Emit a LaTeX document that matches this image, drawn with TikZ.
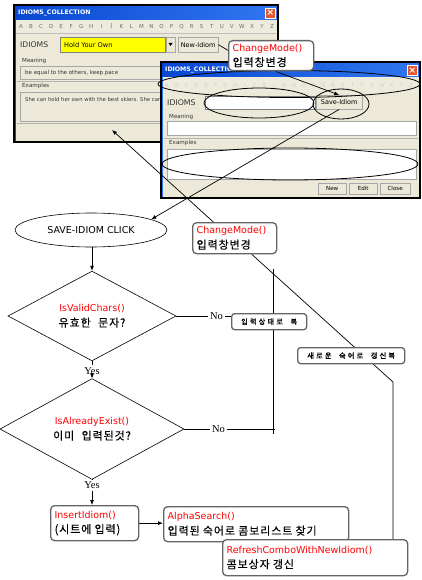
\documentclass[tikz,border=0pt]{standalone}
\usepackage{fontspec}
\setmainfont{DejaVu Sans}
\newfontfamily\kr{Noto Sans CJK KR}[LetterSpace=8,WordSpace=2.2,FakeBold=0.25]
\newfontfamily\krs{Noto Sans CJK KR}[LetterSpace=30,WordSpace=2,FakeBold=1.2]
\newfontfamily\yn{Liberation Serif}
\usetikzlibrary{shapes.geometric,arrows.meta,calc}
\newcommand\fsz[2]{\fontsize{#1}{#2}\selectfont}
\definecolor{winbg}{RGB}{236,233,216}
\definecolor{xpblueA}{RGB}{8,72,210}
\definecolor{xpblueB}{RGB}{48,118,240}
\definecolor{closered}{RGB}{226,88,48}
\definecolor{boxgray}{RGB}{100,100,100}
\definecolor{fred}{RGB}{255,0,0}
\definecolor{combo}{RGB}{255,255,0}
\pgfdeclarelayer{back}\pgfdeclarelayer{win}\pgfdeclarelayer{lines}
\pgfsetlayers{back,win,lines,main}
\begin{document}
\begin{tikzpicture}[x=1pt,y=-1pt,
  conn/.style={draw=black,line width=0.7pt},
  conarr/.style={conn,-{Latex[length=5pt,width=4pt]}},
  fbox/.style={draw=boxgray,line width=1.3pt,rounded corners=4pt,fill=white,anchor=north west,inner xsep=4pt,inner ysep=2pt,align=left,font=\fsz{9.5}{15}},
  sbox/.style={draw=boxgray,line width=1.3pt,rounded corners=3pt,fill=white,anchor=north west,inner sep=0pt,align=center,font=\krs\fsz{7.2}{8}},
  dia/.style={diamond,draw=black,line width=0.6pt,inner sep=0pt,align=center,font=\fsz{9.5}{15}},
  ell/.style={ellipse,draw=black,line width=0.8pt,inner sep=0pt},
  yn/.style={font=\yn\fsz{10.5}{12},inner sep=2pt},
  wtxt/.style={inner sep=0pt,anchor=west,text=black!80},
  btn/.style={draw=gray!70,fill=winbg,anchor=north west,inner sep=0pt,font=\fsz{5.6}{6}},
  wtitle/.style={font=\bfseries\fsz{6.2}{7},text=white,anchor=west,inner sep=0pt},
  wclose/.style={draw=white,fill=closered,minimum size=10pt,inner sep=0pt,font=\bfseries\fsz{9}{9},text=white}
]
\begin{pgfonlayer}{back}
\fill[white] (0,0) rectangle (421,580);
\end{pgfonlayer}
\useasboundingbox (0,0) rectangle (421,580);

% ---------------- window 1 ----------------
\begin{pgfonlayer}{win}
\fill[winbg] (14,5) rectangle (278,142);
\shade[left color=xpblueA,right color=xpblueB] (15,6) rectangle (277,20);
\node[wtitle] (w1title) at (18,13) {IDIOMS\_COLLECTION};
\node[wclose] (w1close) at (270.5,13) {×};
\fill[winbg!92!white] (16,20) rectangle (276,33);
\draw[gray!50] (16,33) -- (276,33);
\foreach \l [count=\i from 0] in {A,B,C,D,E,F,G,H,I,J,K,L,M,N,O,P,Q,R,S,T,U,V,W,X,Y,Z}
  \node[font=\fsz{5.5}{6},text=gray!85!black,inner sep=0pt] (w1l\i) at ({21+\i*10.04},26.5) {\l};
\node[wtxt,font=\fsz{7.7}{8}] (w1lab) at (20,45) {IDIOMS};
\node[draw=gray,fill=combo,minimum width=105pt,minimum height=15pt,text width=97pt,inner xsep=4pt,inner ysep=0pt,anchor=north west,align=left,font=\fsz{6.6}{7}] (combo) at (60,37) {Hold Your Own};
\node[btn,minimum width=9pt,minimum height=15pt] (drop) at (166,37) {};
\fill (168.5,43) -- (172.5,43) -- (170.5,46) -- cycle;
\node[btn,minimum width=40pt,minimum height=15pt,font=\fsz{6.5}{7}] (newidiom) at (178,37) {New-Idiom};
\node[wtxt,font=\fsz{5.6}{6}] (w1mean) at (22,61) {Meaning};
\draw[gray!70,fill=winbg] (20,66) rectangle (275,79);
\node[wtxt,font=\fsz{5.5}{6}] (w1meantext) at (25,72.5) {be equal to the others, keep pace};
\draw[gray!60] (17,81) -- (276,81);
\node[wtxt,font=\fsz{5.6}{6}] (w1ex) at (22,86) {Examples};
\draw[gray!70,fill=winbg] (20,92) rectangle (275,121);
\node[wtxt,font=\fsz{5.3}{6}] (w1extext) at (25,100) {She can hold her own with the best skiers. She can};
\draw[gray!60] (17,123) -- (276,123);
\draw[black,line width=1.2pt] (14,5) rectangle (278,142);
\draw[xpblueA,line width=1pt] (15.6,20) -- (15.6,141);

% ---------------- window 2 ----------------
\fill[winbg] (161,62) rectangle (420,198);
\shade[left color=xpblueA,right color=xpblueB] (162,63) rectangle (419,77);
\node[wtitle] (w2title) at (165,70) {IDIOMS\_COLLECTION};
\node[wclose] (w2close) at (412.5,70.5) {×};
\fill[winbg!92!white] (163,77) rectangle (418,92);
\foreach \l [count=\i from 0] in {A,B,C,D,E,F,G,H,I,J,K,L,M,N,O,P,Q,R,S,T,U,V,W,X,Y,Z}
  \node[font=\fsz{5.5}{6},text=gray!35,inner sep=0pt] (w2l\i) at ({167+\i*9.76},85) {\l};
\node[wtxt,font=\fsz{7.8}{8}] (w2lab) at (167,103) {IDIOMS};
\node[draw=gray,fill=white,minimum width=110pt,minimum height=13pt,anchor=north west,inner sep=0pt] (w2field) at (205,96) {};
\node[btn,minimum width=46pt,minimum height=14pt,font=\fsz{6.5}{7}] (savebtn) at (316,95) {Save-Idiom};
\node[wtxt,font=\fsz{5.6}{6}] (w2mean) at (169,117) {Meaning};
\draw[gray!70,fill=white] (167,121) rectangle (416,135);
\draw[gray!60] (164,138) -- (418,138);
\node[wtxt,font=\fsz{5.6}{6}] (w2ex) at (169,143) {Examples};
\draw[gray!70,fill=white] (167,149) rectangle (416,179);
\node[btn,minimum width=28pt,minimum height=11pt] (btnnew) at (318,183) {New};
\node[btn,minimum width=28pt,minimum height=11pt] (btnedit) at (349,183) {Edit};
\node[btn,minimum width=30pt,minimum height=11pt] (btnclose) at (380,183) {Close};
\draw[black,line width=1.2pt] (161,62) rectangle (420,198);
\draw[xpblueB,line width=1pt] (162.3,77) -- (162.3,197);
\end{pgfonlayer}

% ellipses on window 2
\node[ell,minimum width=262pt,minimum height=27pt] (ellA) at (289,84) {};
\node[ell,minimum width=110pt,minimum height=30pt] (ellB) at (259,103) {};
\node[ell,minimum width=56pt,minimum height=30pt] (ellC) at (341,104) {};
\node[ell,minimum width=256pt,minimum height=32pt] (ellD) at (290,164) {};

% callouts
\node[fbox,minimum width=85pt,minimum height=30pt,text width=77pt] (cm1) at (228,40)
  {\textcolor{fred}{ChangeMode()}\\{\kr\fsz{11}{15}입력창변경}};
\node[fbox,minimum width=84pt,minimum height=31pt,text width=76pt] (cm2) at (192,222)
  {\textcolor{fred}{ChangeMode()}\\{\kr\fsz{11}{15}입력창변경}};

% flowchart
\node[ell,line width=0.6pt,minimum width=152pt,minimum height=34pt,font=\fsz{9.5}{11}] (click) at (91,230) {SAVE-IDIOM CLICK};
\node[dia,minimum width=168pt,minimum height=78pt] (d1) at (92,316)
  {\textcolor{fred}{IsValidChars()}\\{\kr\fsz{11}{15}유효한 문자?}};
\node[dia,minimum width=184pt,minimum height=82pt] (d2) at (92,429)
  {\textcolor{fred}{IsAlreadyExist()}\\{\kr\fsz{11}{15}이미 입력된것?}};
\node[yn] (yes1) at (92,371) {Yes};
\node[yn] (yes2) at (92,485) {Yes};
\node[yn] (no1) at (216.5,316) {No};
\node[yn] (no2) at (218.5,429) {No};
\node[sbox,minimum width=75pt,minimum height=16pt] (box1) at (231,313) {입력상태로 복};
\node[sbox,minimum width=107pt,minimum height=16pt] (box2) at (297,347) {새로운 숙어로 갱신복};
\node[fbox,minimum width=88pt,minimum height=35pt,text width=80pt] (ins) at (50,505)
  {\textcolor{fred}{InsertIdiom()}\\{\kr\fsz{11}{15}(시트에 입력)}};
\node[fbox,minimum width=185pt,minimum height=35pt,text width=177pt] (alpha) at (163,506)
  {\textcolor{fred}{AlphaSearch()}\\{\kr\fsz{11}{15}입력된 숙어로 콤보리스트 찾기}};
\node[fbox,minimum width=185pt,minimum height=36pt,text width=177pt] (refresh) at (222,539)
  {\textcolor{fred}{RefreshComboWithNewIdiom()}\\{\kr\fsz{11}{15}콤보상자 갱신}};

\coordinate (w1arrow) at (112,130);
\coordinate (bend) at (393,382);
\coordinate (vtop) at (273,269);
\coordinate (vbot) at (273,434);
\coordinate (h2end) at (275,429);

% connectors
\begin{pgfonlayer}{lines}
\draw[conn] (newidiom.east) -- ($(cm1.north west)!0.33!(cm1.south west)$);
\draw[conarr] ($(cm1.south west)!0.55!(cm1.south east)$) -- (savebtn.north);
\draw[conarr] (savebtn.south) -- (click.10);
\draw[conarr] ($(cm2.north west)!0.25!(cm2.north east)$) -- (w1arrow);
\draw[conarr] (d1.north |- click.south) -- (d1.north);
\draw[conn] (d1.south) -- (yes1.north);
\draw[conarr] (yes1.south) -- (d2.north);
\draw[conn] (d2.south) -- (yes2.north);
\draw[conarr] (yes2.south) -- (yes2.south |- ins.north);
\draw[conarr] (ins.east) -- (ins.east -| alpha.west);
\draw[conn] (d1.east) -- (no1.west);
\draw[conn] (no1.east) -- (no1.east -| box1.west);
\draw[conn] (d2.east) -- (no2.west);
\draw[conn] (no2.east) -- (no2.east -| h2end);
\draw[conn] (vtop) -- (vbot);
\draw[conn] ($(cm2.south west)!0.7!(cm2.south east)$) -- (bend) -- (bend |- refresh.north);
\end{pgfonlayer}
\end{tikzpicture}
\end{document}
